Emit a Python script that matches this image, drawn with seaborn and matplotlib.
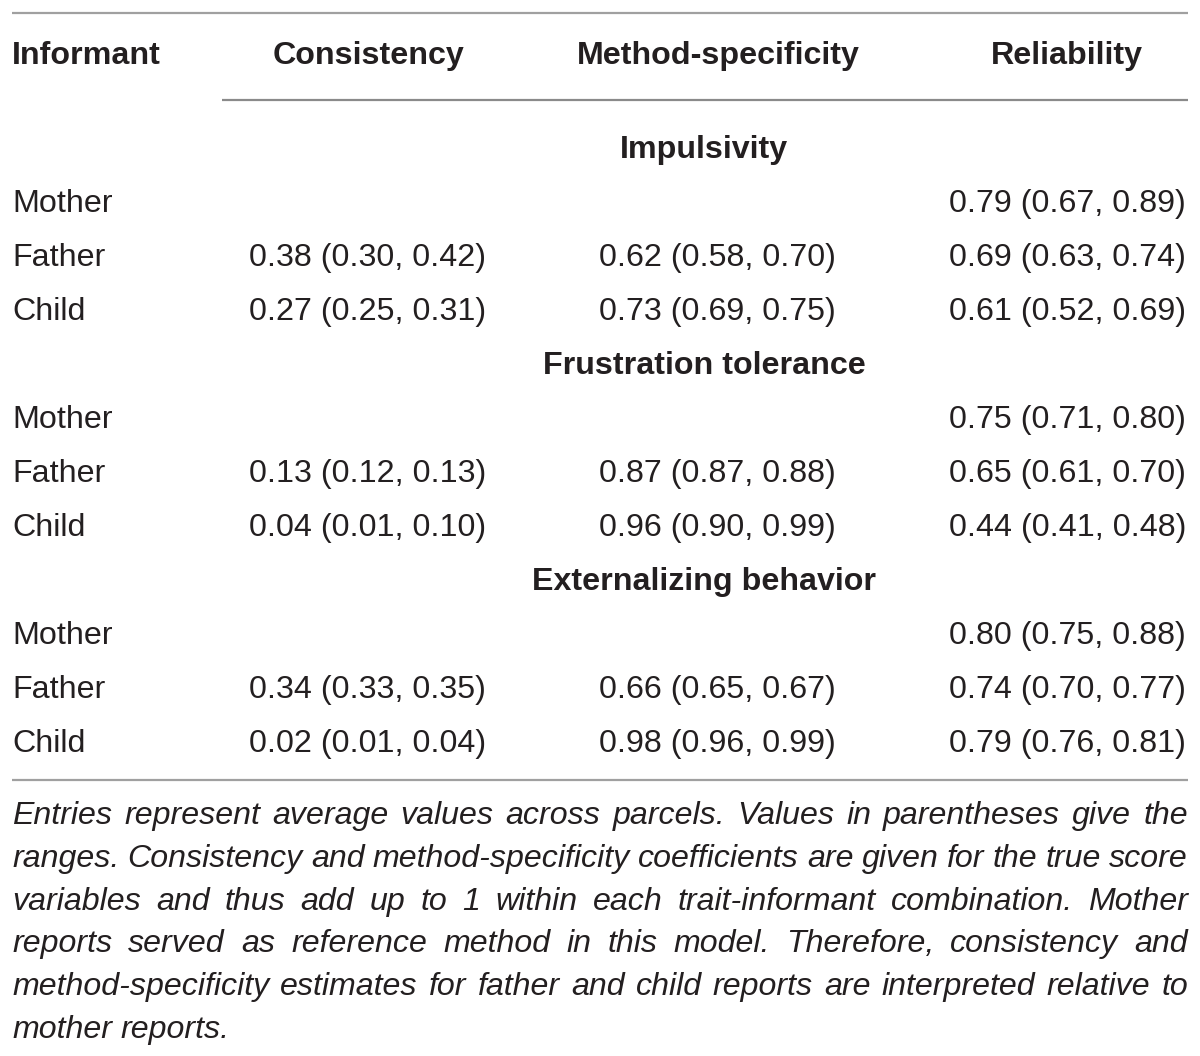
import matplotlib
matplotlib.use("Agg")
import matplotlib.pyplot as plt
import seaborn as sns

sns.set_theme(style="white")
plt.rcParams['font.family'] = ['Liberation Sans', 'DejaVu Sans']

headers = ["Informant", "Consistency", "Method-specificity", "Reliability"]
traits = ["Impulsivity", "Frustration tolerance", "Externalizing behavior"]
informants = ["Mother", "Father", "Child"]
consistency = [
    ["", "0.38 (0.30, 0.42)", "0.27 (0.25, 0.31)"],
    ["", "0.13 (0.12, 0.13)", "0.04 (0.01, 0.10)"],
    ["", "0.34 (0.33, 0.35)", "0.02 (0.01, 0.04)"],
]
method_spec = [
    ["", "0.62 (0.58, 0.70)", "0.73 (0.69, 0.75)"],
    ["", "0.87 (0.87, 0.88)", "0.96 (0.90, 0.99)"],
    ["", "0.66 (0.65, 0.67)", "0.98 (0.96, 0.99)"],
]
reliability = [
    ["0.79 (0.67, 0.89)", "0.69 (0.63, 0.74)", "0.61 (0.52, 0.69)"],
    ["0.75 (0.71, 0.80)", "0.65 (0.61, 0.70)", "0.44 (0.41, 0.48)"],
    ["0.80 (0.75, 0.88)", "0.74 (0.70, 0.77)", "0.79 (0.76, 0.81)"],
]
note_lines = [
    "Entries represent average values across parcels. Values in parentheses give the",
    "ranges. Consistency and method-specificity coefficients are given for the true score",
    "variables and thus add up to 1 within each trait-informant combination. Mother",
    "reports served as reference method in this model. Therefore, consistency and",
    "method-specificity estimates for father and child reports are interpreted relative to",
    "mother reports.",
]

W, H, DPI = 1200, 1056, 100
fig = plt.figure(figsize=(W / DPI, H / DPI), dpi=DPI)
ax = fig.add_axes([0, 0, 1, 1])
ax.set_xlim(0, W)
ax.set_ylim(H, 0)
ax.axis("off")

TXT = "#231f20"
LINE = "#a0a0a0"
FS = 23.2
DY = 3

# rules
ax.plot([12, 1188], [13, 13], color=LINE, lw=1.6, solid_capstyle="butt")
ax.plot([222, 1188], [100, 100], color="#8a8a8a", lw=1.6, solid_capstyle="butt")
ax.plot([12, 1188], [780, 780], color=LINE, lw=1.6, solid_capstyle="butt")

# header
hy = 53 + DY
ax.text(12, hy, headers[0], ha="left", va="center", fontsize=FS, fontweight="bold", color=TXT)
ax.text(368, hy, headers[1], ha="center", va="center", fontsize=FS, fontweight="bold", color=TXT)
ax.text(718, hy, headers[2], ha="center", va="center", fontsize=FS, fontweight="bold", color=TXT)
ax.text(1067, hy, headers[3], ha="center", va="center", fontsize=FS, fontweight="bold", color=TXT)

col_right = [486, 836, 1186]
y = 147 + DY
step = 54
for t, trait in enumerate(traits):
    ax.text(704, y, trait, ha="center", va="center", fontsize=FS, fontweight="bold", color=TXT)
    y += step
    for i, inf in enumerate(informants):
        ax.text(12, y, inf, ha="left", va="center", fontsize=FS, color=TXT)
        for cx, vals in zip(col_right, [consistency, method_spec, reliability]):
            if vals[t][i]:
                ax.text(cx, y, vals[t][i], ha="right", va="center", fontsize=FS, color=TXT)
        y += step

# justified note
fig.canvas.draw()
renderer = fig.canvas.get_renderer()


def width_of(s, fs):
    tt = ax.text(0, 0, s, fontsize=fs, style="italic")
    w = tt.get_window_extent(renderer=renderer).width
    tt.remove()
    return w


left, right = 12, 1188
# size the note so that the densest line (line 2) has ~8.5 px word gaps
s0 = 20.0
w2 = sum(width_of(w, s0) for w in note_lines[1].split(" "))
n2 = len(note_lines[1].split(" ")) - 1
FS_NOTE = s0 * ((right - left) - n2 * 8.5) / w2

space_w = width_of("a a", FS_NOTE) - 2 * width_of("a", FS_NOTE)
ny = 813 + DY
for li, line in enumerate(note_lines):
    words = line.split(" ")
    objs = [ax.text(0, ny, w, ha="left", va="center", fontsize=FS_NOTE, style="italic", color=TXT)
            for w in words]
    widths = [o.get_window_extent(renderer=renderer).width for o in objs]
    last = li == len(note_lines) - 1
    if last or len(words) == 1:
        gap = space_w
    else:
        gap = (right - left - sum(widths)) / (len(words) - 1)
    x = left
    for o, w in zip(objs, widths):
        o.set_x(x)
        x += w + gap
    ny += 42.8

fig.savefig("out.png", dpi=DPI)
